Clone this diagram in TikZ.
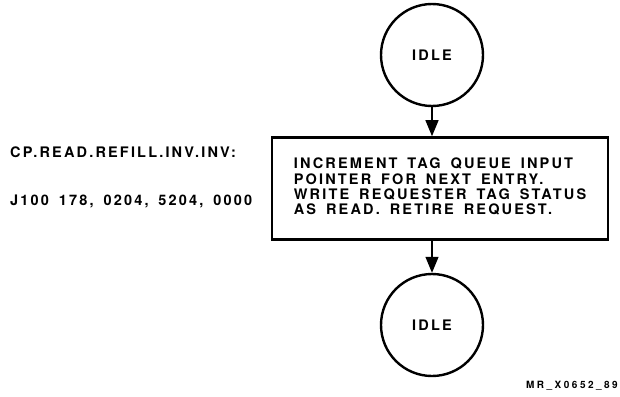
\documentclass[tikz,border=0pt]{standalone}
\usepackage{fontspec}
\setmainfont{TeX Gyre Heros}[LetterSpace=15, WordSpace=1.6]
\newfontfamily\tagfont{TeX Gyre Heros}[LetterSpace=25, WordSpace=1.6]
\usetikzlibrary{arrows.meta}
\tikzset{
  state/.style={draw, circle, line width=2.4pt, minimum size=102pt, inner sep=0pt,
    font=\bfseries\fontsize{14.5}{15}\selectfont},
  taskbox/.style={draw, rectangle, line width=2.6pt, minimum width=336pt, minimum height=102pt,
    font=\bfseries\fontsize{14.5}{15}\selectfont},
  flow/.style={line width=1.3pt, -{Triangle[length=16pt,width=13pt]}},
  side/.style={anchor=base west, inner sep=0pt, font=\bfseries\fontsize{14.5}{15}\selectfont},
}
\begin{document}
\begin{tikzpicture}[x=1pt, y=-1pt]
  \useasboundingbox (0,0) rectangle (620,396);
  % states and task
  \node[state] (idle1) at (432,55) {IDLE};
  \node[taskbox] (task) at (440,188.5) {\begin{tabular}{@{}l@{}}
    INCREMENT TAG QUEUE INPUT\\
    POINTER FOR NEXT ENTRY.\\
    WRITE REQUESTER TAG STATUS\\
    AS READ. RETIRE REQUEST.
  \end{tabular}};
  \node[state] (idle2) at (432,325) {IDLE};
  % flow
  \draw[flow] (idle1) -- (idle1 |- task.north);
  \draw[flow] (task.south -| idle2) -- (idle2);
  % microcode reference
  \node[side] (name) at (10,157) {CP.READ.REFILL.INV.INV:};
  \node[side] (addr) at (10,205) {J100 178, 0204, 5204, 0000};
  % figure tag
  \node[anchor=base east, inner sep=0pt, font=\tagfont\bfseries\fontsize{10}{11}\selectfont]
    (figtag) at (618,388) {MR\_X0652\_89};
\end{tikzpicture}
\end{document}
